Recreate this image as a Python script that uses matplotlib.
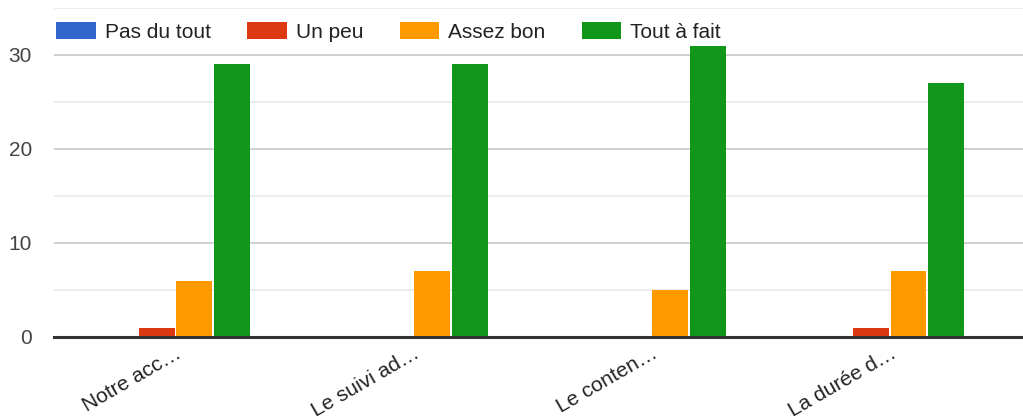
import numpy as np
import matplotlib
matplotlib.use('Agg')
import matplotlib.pyplot as plt
from matplotlib.ticker import MultipleLocator

plt.rcParams['font.family'] = ['Liberation Sans', 'DejaVu Sans']

questions = ['Notre acc…', 'Le suivi ad…', 'Le conten…', 'La durée d…']
series = ['Pas du tout', 'Un peu', 'Assez bon', 'Tout à fait']
pas_du_tout = [0, 0, 0, 0]
un_peu = [1, 0, 0, 1]
assez_bon = [6, 7, 5, 7]
tout_a_fait = [29, 29, 31, 27]
colors = ['#3366cc', '#dc3912', '#ff9900', '#109618']

values = [pas_du_tout, un_peu, assez_bon, tout_a_fait]

fig = plt.figure(figsize=(10.23, 4.2), dpi=100)
ax = fig.add_axes([54 / 1023, 1 - 337 / 420, 1 - 54 / 1023, 329 / 420])

x = np.arange(len(questions))
width = 0.151
step = 0.158
for i, (name, vals, c) in enumerate(zip(series, values, colors)):
    off = (i - 1.5) * step
    ax.bar(x + off, vals, width, color=c, label=name, zorder=3)

ax.set_xlim(-0.51, 3.56)
ax.set_ylim(0, 35)
ax.yaxis.set_major_locator(MultipleLocator(10))
ax.yaxis.set_minor_locator(MultipleLocator(5))
ax.grid(axis='y', which='major', color='#cccccc', linewidth=1.3, zorder=0)
ax.grid(axis='y', which='minor', color='#ebebeb', linewidth=1.3, zorder=0)
ax.set_axisbelow(True)

for s in ['top', 'right', 'left']:
    ax.spines[s].set_visible(False)
ax.spines['bottom'].set_color('#333333')
ax.spines['bottom'].set_linewidth(2.2)
ax.spines['bottom'].set_zorder(4)

ax.tick_params(axis='y', which='both', length=0, pad=16, labelsize=15, labelcolor='#444444')
ax.tick_params(axis='x', length=0, pad=5, labelsize=15, labelcolor='#222222')
ax.set_xticks(x)
ax.set_xticklabels(questions, rotation=30, ha='right', rotation_mode='anchor')

ax.legend(loc='center left', bbox_to_anchor=(2 / 969, 1 - 24 / 329), ncol=4,
          frameon=False, fontsize=15, borderaxespad=0, borderpad=0,
          handlelength=1.9, handleheight=0.86, handletextpad=0.43,
          columnspacing=1.75, labelcolor='#222222')

fig.savefig('out.png', dpi=100)
